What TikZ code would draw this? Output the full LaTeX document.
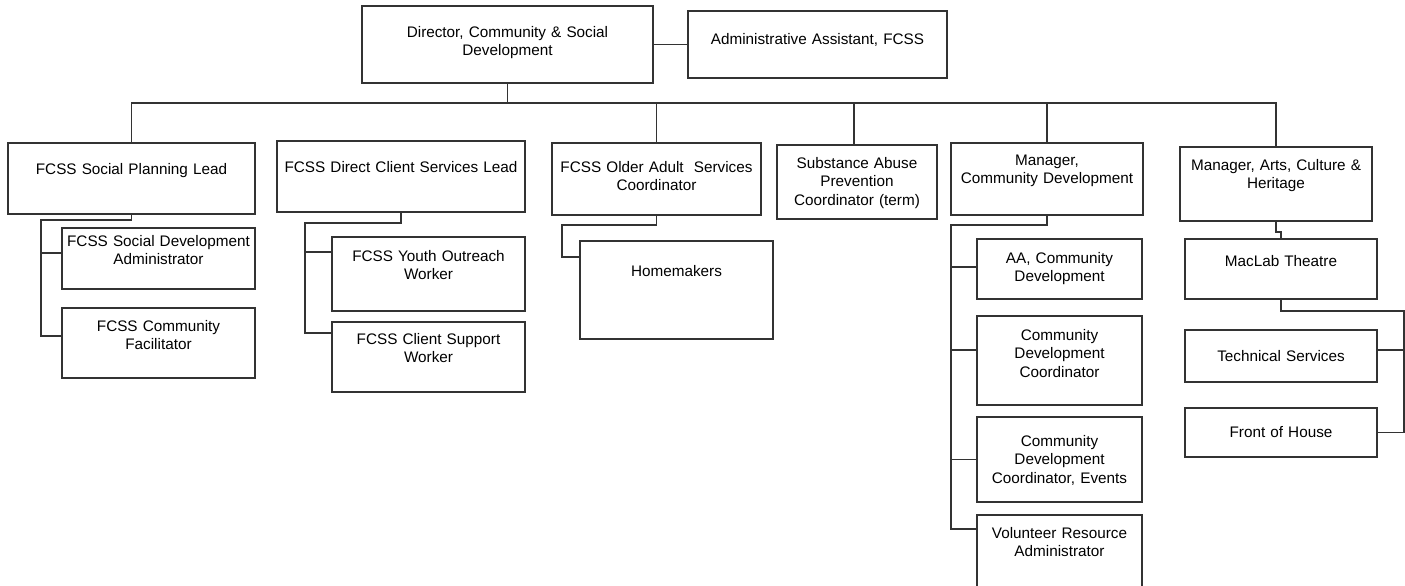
\documentclass[tikz,border=0pt]{standalone}
\usepackage{fontspec}
\setmainfont{Liberation Sans}
\usetikzlibrary{positioning}

\begin{document}
\begin{tikzpicture}[box/.style={draw=black!80,line width=0.7pt,inner sep=0pt,outer sep=0pt,align=center,font=\fontsize{8.7}{10.4}\selectfont},dims/.style n args={3}{text width=#1mm,text height=#2mm,text depth=#3mm},link/.style={draw=black!80,line width=0.7pt}]
		\useasboundingbox (0,0) rectangle (28.1,-11.72);
		\node[box,dims={58.2}{6.3}{9.1}]										(dir)		at (10.15,-0.89)	{Director, Community \& Social\\Development};
		\node[box,dims={51.8}{6.7}{6.7},node distance=7mm,right=of dir]				(admin)		{Administrative Assistant, FCSS};
		\node[box,dims={49.4}{6.3}{7.9},node distance=12mm,below=of dir,xshift=-75.2mm]	(plan)		{FCSS Social Planning Lead};
		\node[box,dims={49.6}{6.3}{7.9},node distance=4.4mm,right=of plan,yshift=0.4mm]	(direct)	{FCSS Direct Client Services Lead};
		\node[box,dims={41.8}{5.9}{8.5},node distance=5.4mm,right=of direct,yshift=-0.5mm]	(older)		{FCSS Older Adult \ Services\\Coordinator};
		\node[box,dims={32}{4.7}{10.1},node distance=3.2mm,right=of older,yshift=-0.6mm]	(subst)		{Substance Abuse\\Prevention\\Coordinator (term)};
		\node[box,dims={38.4}{4.5}{9.9},node distance=2.8mm,right=of subst,yshift=0.6mm]	(mgrcd)		{Manager,\\Community Development};
		\node[box,dims={38.4}{4.7}{10.1},node distance=7.4mm,right=of mgrcd,yshift=-1mm]	(arts)		{Manager, Arts, Culture \&\\Heritage};

		\node[box,dims={38.6}{3.7}{8.5},node distance=2.8mm,below=of plan,xshift=5.4mm]	(sdadm)		{FCSS Social Development\\Administrator};
		\node[box,dims={38.6}{4.7}{9.3},node distance=3.8mm,below=of sdadm]			(facil)		{FCSS Community\\Facilitator};
		\node[box,dims={38.6}{4.9}{9.9},node distance=5mm,below=of direct,xshift=5.5mm]	(youth)		{FCSS Youth Outreach\\Worker};
		\node[box,dims={38.6}{4.5}{9.5},node distance=2.2mm,below=of youth]			(client)	{FCSS Client Support\\Worker};
		\node[box,dims={38.6}{7.1}{12.5},node distance=5.2mm,below=of older,xshift=4mm]	(home)		{Homemakers};
		\node[box,dims={33}{4.9}{7.1},node distance=4.8mm,below=of mgrcd,xshift=2.5mm]	(aacd)		{AA, Community\\Development};
		\node[box,dims={33}{4.9}{12.9},node distance=3.4mm,below=of aacd]				(cdc)		{Community\\Development\\Coordinator};
		\node[box,dims={33}{5.9}{11.1},node distance=2.4mm,below=of cdc]				(cdce)		{Community\\Development\\Coordinator, Events};
		\node[box,dims={33}{4.7}{10.7},node distance=2.6mm,below=of cdce]				(vol)		{Volunteer Resource\\Administrator};
		\node[box,dims={38.4}{5.5}{6.5},node distance=3.6mm,below=of arts,xshift=1mm]	(maclab)	{MacLab Theatre};
		\node[box,dims={38.4}{6.3}{4.1},node distance=6.2mm,below=of maclab]			(tech)		{Technical Services};
		\node[box,dims={38.4}{5.9}{3.9},node distance=5.2mm,below=of tech]				(foh)		{Front of House};

		\coordinate[below=4mm of dir]					(bus);
		\coordinate[below=1.2mm of plan,xshift=-18.1mm]		(planc);
		\coordinate[below=2.2mm of direct,xshift=-19.2mm]	(directc);
		\coordinate[below=2mm of older,xshift=-18.9mm]		(olderc);
		\coordinate[below=2mm of mgrcd,xshift=-19.2mm]		(mgrcdc);
		\coordinate[below=2.4mm of maclab,xshift=24.6mm]	(maclabc);

		\draw[link] (dir) -- (admin);
		\draw[link] (dir.south) -- (bus);
		\draw[link] (bus) -| (plan.north);
		\draw[link] (bus) -| (older.north);
		\draw[link] (bus) -| ([xshift=-0.6mm]subst.north);
		\draw[link] (bus) -| (mgrcd.north);
		\draw[link] (bus) -| (arts.north);
		\draw[link] (plan.south) |- (planc) |- ([yshift=1.4mm]facil.west);
		\draw[link] ([yshift=1.1mm]sdadm.west) -| (planc);
		\draw[link] (direct.south) |- (directc) |- ([yshift=4.8mm]client.west);
		\draw[link] ([yshift=4.4mm]youth.west) -| (directc);
		\draw[link] (older.south) |- (olderc) |- ([yshift=6.6mm]home.west);
		\draw[link] (mgrcd.south) |- (mgrcdc) |- ([yshift=4.9mm]vol.west);
		\draw[link] ([yshift=0.4mm]aacd.west) -| (mgrcdc);
		\draw[link] ([yshift=2.1mm]cdc.west) -| (mgrcdc);
		\draw[link] (cdce.west) -| (mgrcdc);
		\draw[link] (arts.south) -- ++(0,-2.2mm) -| (maclab.north);
		\draw[link] (maclab.south) |- (maclabc) |- (foh.east);
		\draw[link] ([yshift=1.2mm]tech.east) -| (maclabc);
	\end{tikzpicture}
\end{document}
